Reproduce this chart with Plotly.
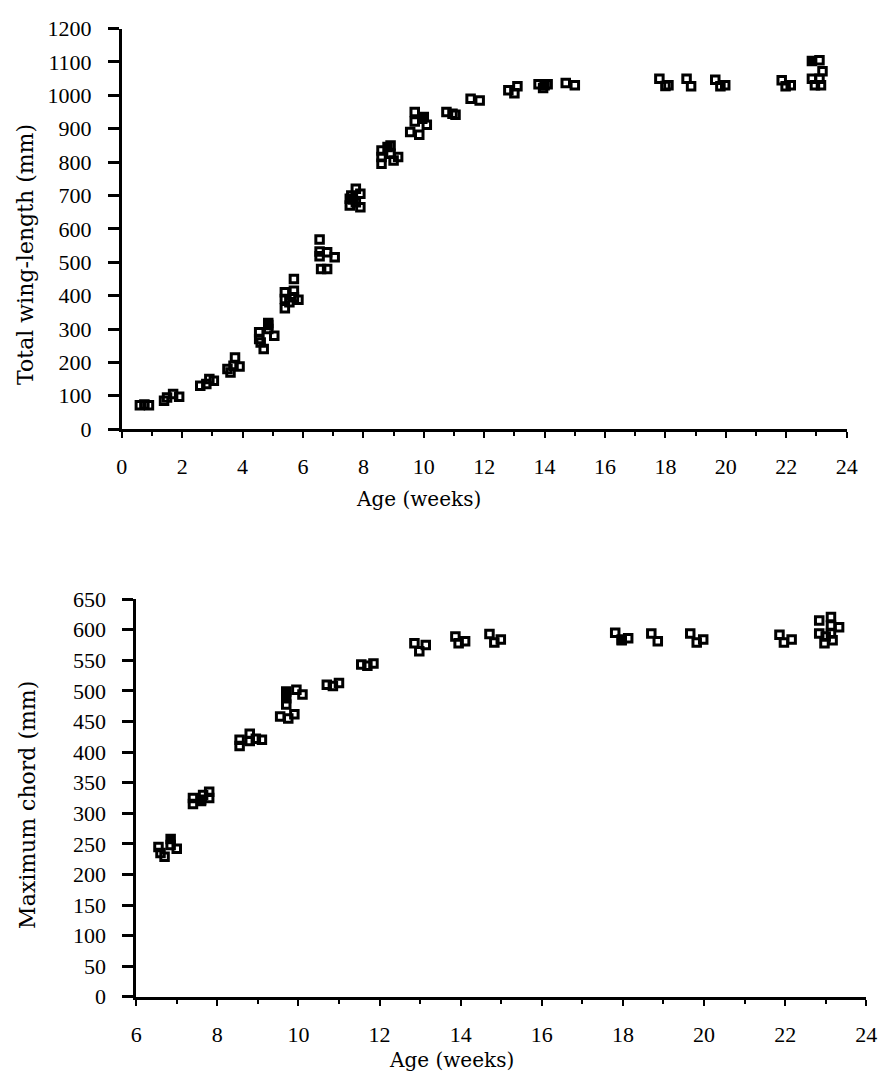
import plotly.graph_objects as go

# ---------------- Data: top panel (Total wing-length) ----------------
wing_age = [0.6, 0.75, 0.9, 1.4, 1.5, 1.7, 1.9, 2.6, 2.8, 2.9, 3.05,
            3.5, 3.6, 3.75, 3.7, 3.9, 4.55, 4.55, 4.6, 4.7, 4.85, 4.85, 5.05,
            5.4, 5.4, 5.4, 5.55, 5.7, 5.7, 5.7, 5.85,
            6.55, 6.55, 6.55, 6.8, 7.05, 6.6, 6.8,
            7.55, 7.55, 7.6, 7.75, 7.75, 7.9, 7.9,
            8.6, 8.6, 8.6, 8.9, 8.9, 9.15, 9.0,
            9.7, 9.7, 9.55, 9.85, 10.0, 10.1,
            10.75, 10.95, 11.05, 11.55, 11.85, 12.8, 13.1, 13.0,
            13.8, 14.1, 13.95, 14.7, 15.0, 17.8, 18.1, 18.0, 18.7, 18.85,
            19.65, 19.98, 19.82, 21.85, 22.15, 21.98,
            23.1, 23.2, 22.85, 23.1, 22.95, 23.15]
wing_len = [72, 74, 72, 85, 95, 105, 97, 130, 135, 150, 145,
            180, 170, 215, 190, 188, 290, 270, 260, 240, 318, 300, 280,
            410, 390, 362, 380, 450, 415, 395, 388,
            568, 532, 518, 530, 515, 480, 480,
            670, 690, 700, 720, 680, 705, 665,
            835, 815, 795, 850, 825, 815, 805,
            950, 922, 890, 882, 935, 912,
            950, 945, 942, 990, 985, 1015, 1027, 1006,
            1033, 1033, 1022, 1037, 1030, 1050, 1030, 1028, 1050, 1027,
            1047, 1030, 1027, 1045, 1030, 1027,
            1105, 1072, 1050, 1050, 1030, 1030]
wing_age_filled = [4.85, 7.65, 8.8, 9.95, 14.0, 22.85]
wing_len_filled = [312, 688, 845, 930, 1030, 1103]

# ---------------- Data: bottom panel (Maximum chord) ----------------
chord_age = [6.55, 6.6, 6.7, 6.85, 7.0,
             7.4, 7.4, 7.6, 7.65, 7.8, 7.8,
             8.55, 8.55, 8.8, 8.8, 8.95, 9.1,
             9.7, 9.55, 9.75, 9.9, 9.95, 10.1,
             10.7, 10.85, 11.0, 11.55, 11.7, 11.85,
             12.86, 13.14, 12.98, 13.87, 14.11, 13.95, 14.71, 14.99, 14.83,
             17.81, 18.13, 17.97, 18.7, 18.86, 19.66, 19.98, 19.82,
             21.86, 22.16, 21.97,
             22.84, 23.13, 23.13, 23.33, 22.84, 23.13, 23.0, 23.17, 22.97]
chord_len = [245, 235, 229, 248, 242,
             325, 315, 320, 330, 335, 325,
             420, 410, 430, 418, 422, 420,
             478, 458, 455, 462, 502, 494,
             510, 508, 513, 543, 541, 545,
             578, 575, 565, 589, 581, 578, 593, 584, 579,
             595, 586, 583, 594, 581, 594, 584, 579,
             592, 584, 579,
             615, 621, 607, 604, 594, 594, 589, 583, 578]
chord_age_filled = [6.85, 7.6, 9.7, 9.7, 17.97]
chord_len_filled = [258, 322, 499, 488, 584]

wing_ticks = list(range(0, 1201, 100))
chord_ticks = list(range(0, 651, 50))

# ---------------- Styling ----------------
TICK_FONT = dict(family="Liberation Serif", size=22, color="black")
XTITLE_FONT = dict(family="DejaVu Serif", size=20, color="black")
YTITLE_FONT = dict(family="DejaVu Serif", size=22, color="black")
open_marker = dict(symbol="square-open", size=7.5, color="black",
                   line=dict(width=3, color="black"))
filled_marker = dict(symbol="square", size=10.5, color="black",
                     line=dict(width=0))

fig = go.Figure()
fig.add_trace(go.Scatter(x=wing_age, y=wing_len, mode="markers",
                         marker=open_marker, xaxis="x", yaxis="y",
                         showlegend=False))
fig.add_trace(go.Scatter(x=wing_age_filled, y=wing_len_filled, mode="markers",
                         marker=filled_marker, xaxis="x", yaxis="y",
                         showlegend=False))
fig.add_trace(go.Scatter(x=chord_age, y=chord_len, mode="markers",
                         marker=open_marker, xaxis="x2", yaxis="y2",
                         showlegend=False))
fig.add_trace(go.Scatter(x=chord_age_filled, y=chord_len_filled, mode="markers",
                         marker=filled_marker, xaxis="x2", yaxis="y2",
                         showlegend=False))

W, H = 891, 1086

def xdom(a, b):
    return [a / W, b / W]

def ydom(bottom_px, top_px):
    return [(H - bottom_px) / H, (H - top_px) / H]

xcommon = dict(showline=True, linecolor="black", linewidth=2.5, showgrid=False,
               zeroline=False, ticks="outside", ticklen=6, tickwidth=2,
               tickcolor="black", tickfont=TICK_FONT, dtick=2,
               ticklabelstandoff=10,
               minor=dict(ticks="outside", dtick=1, ticklen=4, tickwidth=2,
                          tickcolor="black", showgrid=False))
ycommon = dict(showline=True, linecolor="black", linewidth=2.5, showgrid=False,
               zeroline=False, ticks="outside", ticklen=11, tickwidth=2.5,
               tickcolor="black", tickfont=TICK_FONT, ticklabelstandoff=12)

fig.update_layout(
    width=W, height=H,
    margin=dict(l=0, r=0, t=0, b=0),
    paper_bgcolor="white", plot_bgcolor="white",
    xaxis=dict(xcommon, domain=xdom(118, 857), range=[0, 24], anchor="y",
               tick0=0),
    yaxis=dict(ycommon, domain=ydom(427, 17), range=[0, 1200], anchor="x",
               tickvals=wing_ticks),
    xaxis2=dict(xcommon, domain=xdom(132.7, 877), range=[6, 24], anchor="y2",
                tick0=6),
    yaxis2=dict(ycommon, domain=ydom(1008, 601), range=[0, 650], anchor="x2",
                tickvals=chord_ticks),
)

fig.add_annotation(text="Age (weeks)", xref="paper", yref="paper",
                   x=421 / W, y=(H - 498) / H, showarrow=False,
                   font=XTITLE_FONT, xanchor="center", yanchor="middle")
fig.add_annotation(text="Age (weeks)", xref="paper", yref="paper",
                   x=454 / W, y=(H - 1073) / H, showarrow=False,
                   font=XTITLE_FONT, xanchor="center", yanchor="middle")
fig.add_annotation(text="Total wing-length (mm)", xref="paper", yref="paper",
                   x=20 / W, y=(H - 248) / H, showarrow=False, textangle=-90,
                   font=YTITLE_FONT, xanchor="center", yanchor="middle")
fig.add_annotation(text="Maximum chord (mm)", xref="paper", yref="paper",
                   x=22 / W, y=(H - 812) / H, showarrow=False, textangle=-90,
                   font=YTITLE_FONT, xanchor="center", yanchor="middle")

fig.write_html("out.html")
